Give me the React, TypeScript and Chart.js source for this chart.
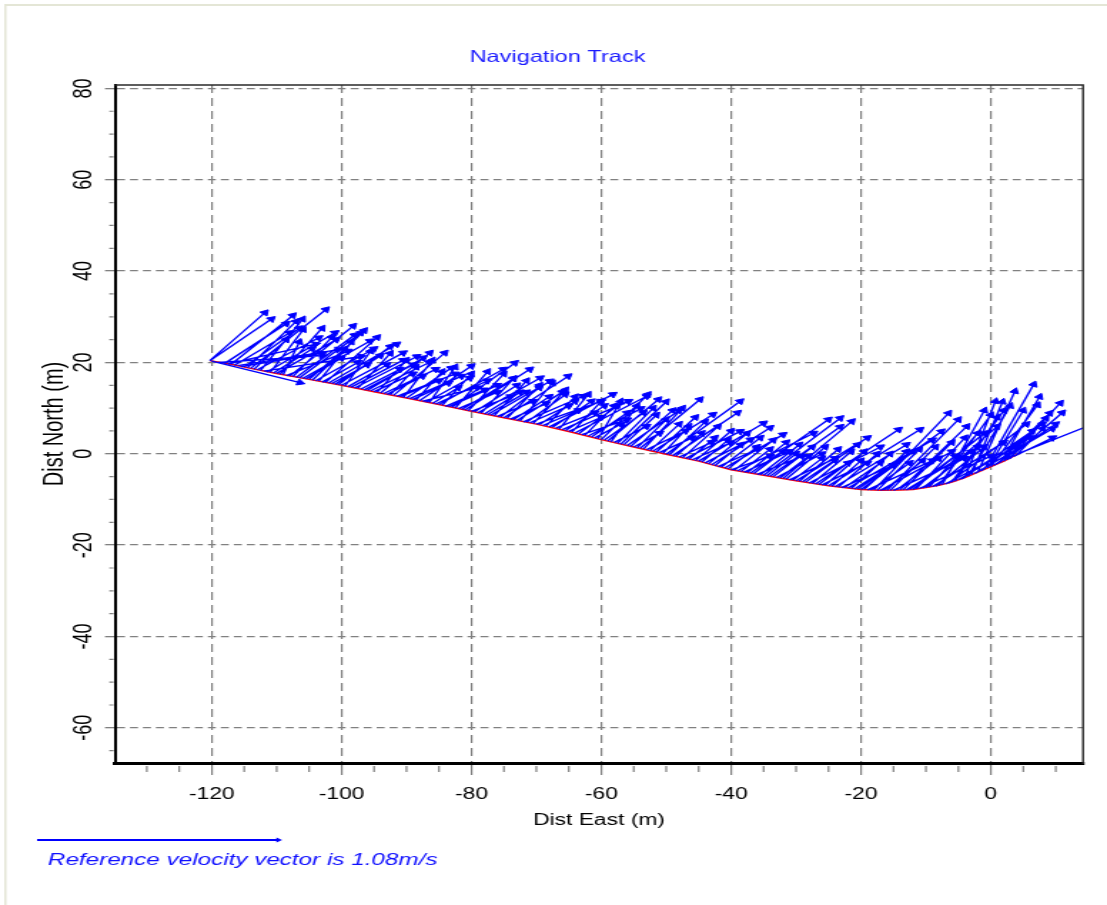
import React, { useEffect, useRef } from 'react';
import { Chart, registerables } from 'chart.js';

Chart.register(...registerables);

// ---------- data (metres) ----------
const chartTitle = 'Navigation Track';
const xAxisTitle = 'Dist East (m)';
const yAxisTitle = 'Dist North (m)';

const xMin = -134.9;
const xMax = 14.2;
const yMin = -67.7;
const yMax = 80.75;
const majorStep = 20;
const minorStep = 5;

const refSpeed = 1.08; // m/s
const refLengthMeters = 37.3; // length the reference vector spans on the East axis
const refLabel = `Reference velocity vector is ${refSpeed}m/s`;

const trackEast = [-120.3, -117, -114, -110, -105, -100, -95, -90, -85, -80, -75, -70, -65, -60, -55, -50, -45, -40, -35, -30, -25, -22, -20, -17, -14, -12, -10, -8, -6, -4, -2, 0, 2, 4.5];
const trackNorth = [20.4, 19.6, 18.7, 17.6, 16.3, 15.0, 13.6, 12.2, 10.8, 9.3, 7.9, 6.5, 4.9, 3.1, 1.5, -0.1, -1.6, -3.5, -4.7, -5.9, -7.0, -7.5, -7.8, -8.0, -7.9, -7.8, -7.4, -6.9, -6.2, -5.2, -4.0, -2.8, -1.6, 0.2];

const arrowTailEast = [
  -120.3, -120.3, -120.0, -119, -118, -117, -116, -115, -114, -113,
  -112, -111, -110, -109, -108, -107, -106, -105, -104, -103,
  -102, -101, -100, -99, -98, -97, -96, -95, -94, -93,
  -92, -91, -90, -89, -88, -87, -86, -85, -84, -83,
  -82, -81, -80, -79, -78, -77, -76, -75, -74, -73,
  -72, -71, -70, -69, -68, -67, -66, -65, -64, -63,
  -62, -61, -60, -59, -58, -57, -56, -55, -54, -53,
  -52, -51, -50, -49, -48, -47, -46, -45, -44, -43,
  -42, -41, -40, -39, -38, -37, -36, -35, -34, -33,
  -32, -31, -30, -29, -28, -27, -26, -25, -24, -23,
  -22, -21, -20, -19, -18, -17, -16, -15, -14, -13,
  -12, -11, -10, -9, -8, -7, -6, -5, -4, -3,
  -2, -1.5, -1, 0, 1, 2, 3, 3.5, 4, 4.5,
  -117.5, -116.5, -115.5, -114.5, -113.5, -112.5, -111.5, -110.5, -109.5, -108.5,
  -107.5, -106.5, -105.5, -104.5, -103.5, -102.5, -101.5, -100.5, -99.5, -98.5,
  -97.5, -96.5, -95.5, -94.5, -93.5, -92.5, -91.5, -90.5, -89.5, -88.5,
  -87.5, -86.5, -85.5, -84.5, -83.5, -82.5, -81.5, -80.5, -79.5, -78.5,
  -77.5, -76.5, -75.5, -74.5, -73.5, -72.5, -71.5, -70.5, -69.5, -68.5,
  -67.5, -66.5, -65.5, -64.5, -63.5, -62.5, -61.5, -60.5, -59.5, -58.5,
  -57.5, -56.5, -55.5, -54.5, -53.5, -52.5, -51.5, -50.5, -49.5, -48.5,
  -47.5, -46.5, -45.5, -44.5, -43.5, -42.5, -41.5, -40.5, -39.5, -38.5,
  -37.5, -36.5, -35.5, -34.5, -33.5, -32.5, -31.5, -30.5, -29.5, -28.5,
  -27.5, -26.5, -25.5, -24.5, -23.5, -22.5, -21.5, -20.5, -19.5, -18.5,
  -17.5, -16.5, -15.5, -14.5, -13.5, -12.5, -11.5, -10.5, -9.5, -8.5,
  -7.5, -6.5, -5.5, -4.5, -3.5, -2.5, -0.5, 0.5, 1.5, 2.5,
];
const arrowTailNorth = [
  20.4, 20.4, 20.3, 20.0, 19.8, 19.6, 19.3, 19.0, 18.7, 18.4,
  18.1, 17.8, 17.6, 17.3, 17.0, 16.7, 16.5, 16.3, 16.0, 15.7,
  15.5, 15.2, 15.0, 14.7, 14.4, 14.2, 13.9, 13.6, 13.3, 13.0,
  12.8, 12.5, 12.2, 11.9, 11.6, 11.3, 11.0, 10.8, 10.4, 10.2,
  9.9, 9.6, 9.3, 9.0, 8.7, 8.5, 8.2, 7.9, 7.6, 7.3,
  7.0, 6.8, 6.5, 6.2, 5.9, 5.6, 5.3, 4.9, 4.6, 4.2,
  3.9, 3.5, 3.1, 2.8, 2.5, 2.1, 1.8, 1.5, 1.2, 0.9,
  0.6, 0.3, -0.1, -0.4, -0.7, -1.0, -1.3, -1.6, -2.0, -2.4,
  -2.8, -3.1, -3.5, -3.7, -4.0, -4.2, -4.5, -4.7, -4.9, -5.2,
  -5.4, -5.7, -5.9, -6.1, -6.4, -6.6, -6.8, -7.0, -7.2, -7.4,
  -7.5, -7.7, -7.8, -7.9, -7.9, -8.0, -8.0, -8.0, -7.9, -7.9,
  -7.8, -7.6, -7.4, -7.2, -6.9, -6.6, -6.2, -5.7, -5.2, -4.6,
  -4.0, -3.7, -3.4, -2.8, -2.2, -1.6, -1.0, -0.6, -0.2, 0.2,
  19.7, 19.4, 19.1, 18.8, 18.5, 18.2, 17.9, 17.7, 17.4, 17.1,
  16.9, 16.6, 16.4, 16.1, 15.9, 15.6, 15.4, 15.1, 14.8, 14.6,
  14.3, 14.0, 13.8, 13.5, 13.2, 12.9, 12.6, 12.3, 12.1, 11.8,
  11.5, 11.2, 10.9, 10.6, 10.3, 10.0, 9.7, 9.4, 9.2, 8.9,
  8.6, 8.3, 8.1, 7.8, 7.5, 7.2, 6.9, 6.6, 6.4, 6.1,
  5.8, 5.4, 5.1, 4.8, 4.4, 4.1, 3.7, 3.3, 3.0, 2.6,
  2.3, 2.0, 1.6, 1.3, 1.0, 0.7, 0.4, 0.1, -0.2, -0.5,
  -0.9, -1.2, -1.5, -1.8, -2.2, -2.6, -2.9, -3.3, -3.6, -3.9,
  -4.1, -4.3, -4.6, -4.8, -5.0, -5.3, -5.5, -5.8, -6.0, -6.2,
  -6.5, -6.7, -6.9, -7.1, -7.3, -7.4, -7.6, -7.7, -7.8, -7.9,
  -8.0, -8.0, -8.0, -7.9, -7.9, -7.8, -7.7, -7.5, -7.3, -7.1,
  -6.8, -6.4, -6.0, -5.5, -4.9, -4.3, -3.1, -2.5, -1.9, -1.3,
];
const arrowHeadEast = [
  -111.8, -110.8, -106.4, -103, -108.5, -107.5, -100.5, -106.5, -102.4, -103.5,
  -97, -105.9, -100.8, -106.5, -98.2, -98.0, -95.6, -99.5, -95.0, -97.5,
  -91.5, -94.0, -90.5, -93, -88.4, -91, -87.4, -89, -86.4, -87.5,
  -84.1, -85, -83.1, -83.5, -80.0, -80.2, -82, -75.1, -78, -73.3,
  -76, -71.0, -74, -69.4, -72.5, -67.9, -70.5, -65.1, -68.5, -66,
  -62.8, -65, -60.0, -63.5, -58.2, -61, -55.8, -60, -53.0, -56,
  -53.9, -57, -52.8, -51.2, -53, -50.0, -48.0, -51, -44.8, -47,
  -42.8, -46, -38.6, -39, -43, -38.6, -40.1, -35.0, -37.0, -34.0,
  -36, -32.0, -34, -27.3, -31, -25.0, -29, -23.2, -23.2, -26,
  -21.4, -24, -19, -20.5, -17, -14.2, -19, -10.9, -13, -15,
  -9, -12, -7.6, -9, -6.5, -6, -5.0, -4, -3.7, -2,
  -1, 0, 1, 2, 0, 4, 2, 6, 0.7, 1.8,
  3.7, 6.4, 6.6, 7.2, 9.1, 10.7, 8.5, 9.5, 8, 18,
  -104, -108, -103, -107, -108.5, -106, -101, -104.5, -103, -99,
  -101.5, -97, -100, -96.5, -98.5, -94.5, -96, -92.5, -95.5, -90.5,
  -92.5, -89, -86.5, -90, -85.5, -88.5, -82.5, -86, -81.5, -84.5,
  -79, -82.5, -77.5, -80, -76, -77.5, -73.5, -75, -73, -73.5,
  -71.5, -71.5, -69.5, -69.5, -68, -67.5, -65.5, -65.5, -64, -64,
  -61.5, -62, -59.5, -60, -57.5, -58, -56, -57, -53.5, -54.5,
  -52, -51.5, -49, -50, -47.5, -48, -45.5, -46.5, -44, -44.5,
  -42, -42.5, -40, -40.5, -37.5, -38.5, -35.5, -36, -33.5, -34,
  -31.5, -32, -29.5, -30, -27.5, -28, -25.5, -26, -23.5, -24,
  -21.5, -22, -19.5, -20, -17.5, -17, -15.5, -15, -13, -12.5,
  -11, -10.5, -8.5, -8, -6, -5.5, -4, -3, -2, -1,
  -1, 5.5, 1, 8, 3, 9.5, 5, 10, 7.5, 11,
];
const arrowHeadNorth = [
  30.9, 29.5, 15.6, 21.5, 28.5, 30.3, 22.8, 27.5, 31.6, 25.4,
  21.3, 27.2, 25.0, 24.5, 28.0, 26.0, 24.7, 23.0, 23.0, 20.0,
  24.0, 21.5, 22.1, 19.5, 21.3, 18.5, 21.0, 17.5, 22.1, 17.0,
  22.1, 16.0, 18.8, 15.5, 19.2, 16.6, 14.5, 18.5, 14.0, 19.9,
  13.5, 18.5, 12.5, 16.6, 13.5, 15.9, 11.5, 17.0, 11.0, 13.5,
  12.6, 10.5, 11.5, 9.5, 13.0, 9.0, 11.5, 8.0, 12.6, 7.5,
  9.9, 6.5, 13.0, 11.9, 6.0, 11.4, 9.5, 4.5, 11.9, 5.0,
  8.6, 3.5, 11.5, 9.0, 2.5, 4.9, 2.4, 6.7, 3.1, 5.7,
  1.0, 4.2, -0.5, 4.5, 0.5, 7.5, -0.5, 7.8, 5.9, 0.0,
  7.1, -1.0, 3.5, 2.0, 1.5, 5.3, -2.0, 5.3, 2.0, -2.5,
  3.0, 0.5, 4.9, -1.5, 8.9, 0.5, 7.5, -1.0, 6.0, 1.5,
  4.5, -0.5, 6.0, 2.5, 8.5, 1.5, 9.5, 3.5, 11.5, 11.4,
  13.7, 5.0, 15.2, 10.7, 8.9, 11.1, 7.8, 3.5, 5.5, 7.8,
  24.0, 26.5, 22.0, 29.0, 25.0, 29.5, 26.5, 23.0, 27.5, 22.5,
  25.5, 26.5, 21.0, 27.0, 24.5, 25.5, 19.5, 23.5, 22.5, 20.5,
  22.0, 19.5, 20.0, 20.5, 18.5, 19.0, 17.5, 20.5, 17.0, 18.0,
  14.5, 19.0, 16.0, 17.5, 15.0, 18.0, 16.5, 17.5, 15.0, 16.5,
  13.5, 16.0, 14.5, 15.0, 12.5, 15.5, 13.0, 14.0, 11.5, 12.5,
  11.5, 13.0, 10.5, 11.5, 10.5, 10.5, 9.0, 11.5, 9.0, 10.5,
  10.0, 8.5, 9.5, 7.5, 10.0, 6.5, 8.0, 6.0, 7.0, 4.5,
  6.0, 3.5, 5.0, 3.0, 4.5, 2.0, 3.5, 1.5, 3.0, 1.0,
  2.5, 0.5, 2.0, 0.0, 1.5, -0.5, 1.5, -1.0, 1.0, -1.5,
  0.5, -2.0, 0.5, -1.5, 0.0, -2.0, 0.0, -2.5, 0.5, -2.0,
  1.0, -1.5, 1.5, -1.0, 2.5, -0.5, 3.5, 0.5, 4.5, 1.5,
  9.5, 6.5, 8.0, 6.5, 10.5, 5.5, 9.5, 6.5, 12.5, 9.0,
];

// ---------- layout constants ----------
const CANVAS_W = 776; // drawn width; shown stretched to 1107px like the reference
const CANVAS_H = 905;
const SHOW_W = 1107;
const FONT = "'Liberation Sans', Arial, Helvetica, sans-serif";

const shaftData: { x: number | null; y: number | null }[] = [];
arrowTailEast.forEach((e, i) => {
  shaftData.push({ x: e, y: arrowTailNorth[i] });
  shaftData.push({ x: arrowHeadEast[i], y: arrowHeadNorth[i] });
  shaftData.push({ x: null, y: null });
});

const decorPlugin = {
  id: 'decor',
  beforeDraw(chart: any) {
    const ctx = chart.ctx;
    ctx.save();
    ctx.fillStyle = '#ffffff';
    ctx.fillRect(0, 0, chart.width, chart.height);
    ctx.fillStyle = '#e4e6d6';
    ctx.fillRect(3, 4, chart.width, 2);
    ctx.fillRect(3, 4, 1.5, chart.height);
    ctx.restore();
  },
  afterDraw(chart: any) {
    const ctx = chart.ctx;
    const { left, right, top, bottom } = chart.chartArea;
    const xs = chart.scales.x;
    const ys = chart.scales.y;
    ctx.save();
    // top & right frame of plot
    ctx.strokeStyle = '#2a2a2a';
    ctx.lineWidth = 1.4;
    ctx.beginPath();
    ctx.moveTo(left, top);
    ctx.lineTo(right, top);
    ctx.lineTo(right, bottom + 1);
    ctx.stroke();
    // minor ticks
    ctx.strokeStyle = '#808080';
    ctx.lineWidth = 1.2;
    ctx.beginPath();
    for (let v = Math.ceil(xMin / minorStep) * minorStep; v <= xMax; v += minorStep) {
      if (v % majorStep === 0) continue;
      const px = xs.getPixelForValue(v);
      ctx.moveTo(px, bottom + 3);
      ctx.lineTo(px, bottom + 9);
    }
    for (let v = Math.ceil(yMin / minorStep) * minorStep; v <= yMax; v += minorStep) {
      if (v % majorStep === 0) continue;
      const py = ys.getPixelForValue(v);
      ctx.moveTo(left - 4, py);
      ctx.lineTo(left - 1, py);
    }
    ctx.stroke();
    // reference velocity vector
    const len = xs.getPixelForValue(refLengthMeters) - xs.getPixelForValue(0);
    const x0 = 26;
    const yLine = 840;
    ctx.strokeStyle = '#0000ff';
    ctx.fillStyle = '#0000ff';
    ctx.lineWidth = 2;
    ctx.beginPath();
    ctx.moveTo(x0, yLine);
    ctx.lineTo(x0 + len, yLine);
    ctx.stroke();
    ctx.beginPath();
    ctx.moveTo(x0 + len + 2, yLine);
    ctx.lineTo(x0 + len - 2, yLine - 2.5);
    ctx.lineTo(x0 + len - 2, yLine + 2.5);
    ctx.closePath();
    ctx.fill();
    ctx.font = `italic 17px ${FONT}`;
    ctx.textBaseline = 'middle';
    ctx.textAlign = 'left';
    ctx.fillStyle = '#1010ff';
    ctx.fillText(refLabel, 33.6, 860);
    ctx.restore();
  },
};

export default function App() {
  const ref = useRef<HTMLCanvasElement>(null);
  useEffect(() => {
    if (!ref.current) return;
    const chart = new Chart(ref.current, {
      type: 'line',
      data: {
        datasets: [
          {
            type: 'line',
            label: 'Track',
            data: trackEast.map((e, i) => ({ x: e, y: trackNorth[i] })),
            borderColor: '#ff0000',
            borderWidth: 1.5,
            pointRadius: 0,
            tension: 0,
            order: 3,
          },
          {
            type: 'line',
            label: 'Velocity',
            data: shaftData,
            borderColor: '#0000ff',
            borderWidth: 1.4,
            pointRadius: 0,
            spanGaps: false,
            tension: 0,
            order: 2,
          },
          {
            type: 'scatter',
            label: 'Heads',
            data: arrowHeadEast.map((e, i) => ({ x: e, y: arrowHeadNorth[i] })),
            pointStyle: 'triangle',
            pointRadius: 3.6,
            backgroundColor: '#0000ff',
            borderColor: '#0000ff',
            borderWidth: 1,
            pointRotation: (c: any) => {
              const i = c.dataIndex;
              const xs = c.chart.scales.x;
              const ys = c.chart.scales.y;
              const dx = xs.getPixelForValue(arrowHeadEast[i]) - xs.getPixelForValue(arrowTailEast[i]);
              const dy = ys.getPixelForValue(arrowHeadNorth[i]) - ys.getPixelForValue(arrowTailNorth[i]);
              return (Math.atan2(dx, -dy) * 180) / Math.PI;
            },
            order: 1,
          } as any,
        ],
      },
      options: {
        responsive: false,
        animation: false,
        events: [],
        layout: { padding: { left: 22.4, right: 16.8, top: 0, bottom: 72 } },
        plugins: {
          legend: { display: false },
          tooltip: { enabled: false },
          title: {
            display: true,
            text: chartTitle,
            color: '#1a1aff',
            font: { family: FONT, size: 16.5, weight: 'normal' },
            padding: { top: 47.1, bottom: 18.1 },
          },
        },
        scales: {
          x: {
            type: 'linear',
            min: xMin,
            max: xMax,
            afterFit: (s: any) => {
              s.height = 70;
            },
            ticks: {
              stepSize: majorStep,
              includeBounds: false,
              autoSkip: false,
              maxRotation: 0,
              color: '#000',
              padding: 10.4,
              font: { family: FONT, size: 16 },
            },
            grid: { color: '#808080', lineWidth: 1.2, tickLength: 12, tickColor: '#808080', tickWidth: 1.2 },
            border: { display: true, color: '#000', width: 3, dash: [8, 5] },
            title: {
              display: true,
              text: xAxisTitle,
              color: '#000',
              font: { family: FONT, size: 16 },
              padding: { top: 0, bottom: 2.4 },
            },
          },
          y: {
            type: 'linear',
            min: yMin,
            max: yMax,
            afterFit: (s: any) => {
              s.width = 58.2;
            },
            ticks: {
              stepSize: majorStep,
              includeBounds: false,
              autoSkip: false,
              minRotation: 90,
              maxRotation: 90,
              crossAlign: 'center',
              color: '#000',
              padding: 1.7,
              font: { family: FONT, size: 18 },
            },
            grid: { color: '#808080', lineWidth: 1.3, tickLength: 7, tickColor: '#808080', tickWidth: 1.3 },
            border: { display: true, color: '#000', width: 2, dash: [5.6, 3.5] },
            title: {
              display: true,
              text: yAxisTitle,
              color: '#000',
              font: { family: FONT, size: 20 },
              padding: { top: 4.2, bottom: 0 },
            },
          },
        },
      } as any,
      plugins: [decorPlugin],
    });
    return () => chart.destroy();
  }, []);

  return (
    <div style={{ position: 'fixed', left: 0, top: 0, width: SHOW_W, height: CANVAS_H, background: '#fff' }}>
      <canvas
        ref={ref}
        width={CANVAS_W}
        height={CANVAS_H}
        style={{ width: `${SHOW_W}px`, height: `${CANVAS_H}px`, display: 'block' }}
      />
    </div>
  );
}
